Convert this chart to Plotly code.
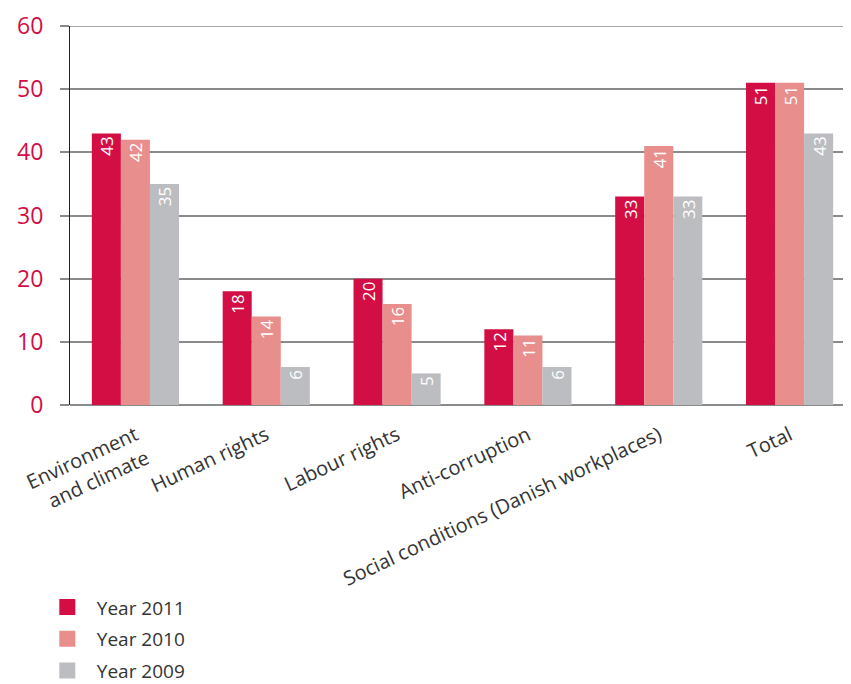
import plotly.graph_objects as go

categories = ["Environment<br>and climate", "Human rights", "Labour rights",
              "Anti-corruption", "Social conditions (Danish workplaces)", "Total"]
series_names = ["Year 2011", "Year 2010", "Year 2009"]
v2011 = [43, 18, 20, 12, 33, 51]
v2010 = [42, 14, 16, 11, 41, 51]
v2009 = [35, 6, 5, 6, 33, 43]
colors = ["#d30e45", "#e88e8c", "#bcbdc0"]
y_ticks = [0, 10, 20, 30, 40, 50, 60]

FONT = "Open Sans"
fig = go.Figure()
for name, vals, col in zip(series_names, [v2011, v2010, v2009], colors):
    fig.add_trace(go.Bar(
        x=categories, y=vals, name=name, marker_color=col, marker_line_width=0,
        text=[str(v) for v in vals], textposition="inside", insidetextanchor="end",
        textangle=-90, textfont=dict(color="white", size=22, family=FONT),
        showlegend=False,
    ))
# legend entries with larger square swatches
for name, col in zip(series_names, colors):
    fig.add_trace(go.Scatter(
        x=[None], y=[None], mode="markers", name=name, legendgroup=name,
        marker=dict(symbol="square", size=17, color=col),
    ))

fig.update_layout(
    width=851, height=684,
    margin=dict(l=62, r=4, t=18, b=286),
    paper_bgcolor="white", plot_bgcolor="white",
    barmode="group", bargap=0.334, bargroupgap=0,
    font=dict(family=FONT, color="#333333"),
    showlegend=True,
    legend=dict(x=-0.041, y=-0.748, xanchor="left", yanchor="bottom",
                orientation="v", font=dict(size=19, color="#333333", family=FONT),
                tracegroupgap=4, itemwidth=49, itemsizing="trace",
                bgcolor="rgba(0,0,0,0)"),
)
fig.update_xaxes(tickangle=-25, tickfont=dict(size=20, color="#333333", family=FONT),
                 ticklabelstandoff=14,
                 showline=False, showgrid=False, ticks="", automargin=False)
fig.update_yaxes(range=[0, 60], tickvals=y_ticks, ticktext=[str(t) for t in y_ticks],
                 tickfont=dict(size=23, color="#d30e45", family=FONT),
                 showgrid=True, gridcolor="#8a8a8a", gridwidth=1.5,
                 zeroline=True, zerolinecolor="#8a8a8a", zerolinewidth=2,
                 ticks="outside", ticklen=9, tickcolor="#8a8a8a", tickwidth=1.5,
                 ticklabelstandoff=12,
                 showline=True, linecolor="#222222", linewidth=1, automargin=False)
# darker grid line at 20, as in the original artwork
fig.add_shape(type="line", xref="paper", yref="y", x0=-0.0115, x1=1,
              y0=y_ticks[2], y1=y_ticks[2], layer="below",
              line=dict(color="#333333", width=1.5))
# top grid line at 60
fig.add_shape(type="line", xref="paper", yref="y", x0=-0.0115, x1=1,
              y0=y_ticks[-1], y1=y_ticks[-1], layer="below",
              line=dict(color="#8a8a8a", width=1.5))
# axis line extends slightly below zero
fig.add_shape(type="line", xref="paper", yref="y", x0=0, x1=0, y0=-1, y1=0,
              line=dict(color="#222222", width=1))
fig.write_html("out.html")
